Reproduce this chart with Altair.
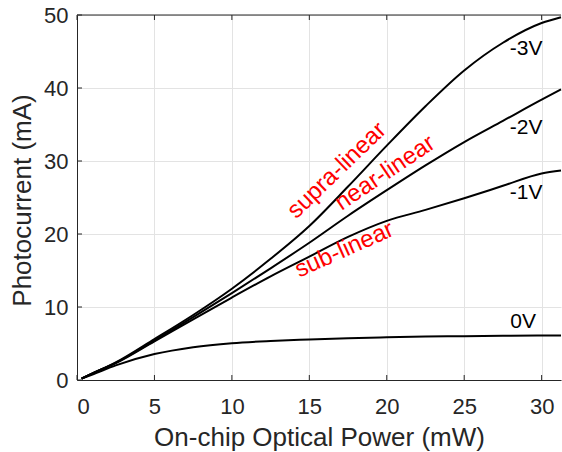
import altair as alt
import pandas as pd

# ---- data ----
power_mw = [0.3, 1, 2.5, 5, 7.5, 10, 12.5, 15, 17.5, 20, 22.5, 25, 27.5, 30, 31.25]
i_m3v = [0.2, 0.9, 2.4, 5.6, 8.9, 12.5, 16.6, 21.1, 26.5, 32.1, 37.5, 42.4, 46.2, 48.9, 49.7]
i_m2v = [0.2, 0.9, 2.35, 5.4, 8.6, 11.9, 15.3, 18.8, 22.5, 26.0, 29.4, 32.6, 35.5, 38.4, 39.8]
i_m1v = [0.2, 0.9, 2.3, 5.3, 8.3, 11.3, 14.2, 16.9, 19.6, 21.8, 23.3, 24.9, 26.6, 28.3, 28.7]
i_0v = [0.2, 0.75, 2.0, 3.55, 4.5, 5.05, 5.35, 5.55, 5.72, 5.85, 5.95, 6.0, 6.05, 6.1, 6.1]
series_names = ["-3V", "-2V", "-1V", "0V"]

label_text = ["-3V", "-2V", "-1V", "0V"]
label_x = [29.0, 29.0, 29.0, 28.8]
label_y = [45.4, 34.5, 25.6, 8.0]

note_text = ["supra-linear", "near-linear", "sub-linear"]
note_x = [17.1, 20.15, 17.45]
note_y = [28.0, 27.55, 16.95]
note_angle = [316, 326, 336]

x_ticks = [0, 5, 10, 15, 20, 25, 30]
y_ticks = [0, 10, 20, 30, 40, 50]

W, H = 484, 365
XMAX = 31.25
FONT = "Liberation Sans"
TXT = "#262626"

rows = []
for name, ys in zip(series_names, [i_m3v, i_m2v, i_m1v, i_0v]):
    for x, y in zip(power_mw, ys):
        rows.append({"series": name, "x": x, "y": y})
df = pd.DataFrame(rows)

xs = alt.Scale(domain=[0, XMAX], nice=False, zero=False)
ys_ = alt.Scale(domain=[0, 50], nice=False)

x_axis = alt.Axis(values=x_ticks, title="On-chip Optical Power (mW)", ticks=False,
                  labelPadding=26, labelBaseline="middle", labelFontSize=22,
                  titleFontSize=26, titleY=57, titleBaseline="middle",
                  labelColor=TXT, titleColor=TXT, domainColor=TXT,
                  gridColor="#e3e3e3", labelFont=FONT, titleFont=FONT, titleFontWeight="normal")
y_axis = alt.Axis(values=y_ticks, title="Photocurrent (mA)", ticks=False,
                  labelPadding=9, labelFontSize=22, titleFontSize=26,
                  titleX=-55, titleY=185, titleAngle=270, titleBaseline="middle",
                  titleAlign="center",
                  labelColor=TXT, titleColor=TXT, domainColor=TXT,
                  gridColor="#e3e3e3", labelFont=FONT, titleFont=FONT, titleFontWeight="normal")

lines = alt.Chart(df).mark_line(color="black", strokeWidth=2, interpolate="monotone").encode(
    x=alt.X("x:Q", scale=xs, axis=x_axis),
    y=alt.Y("y:Q", scale=ys_, axis=y_axis),
    detail="series:N",
)

lab_df = pd.DataFrame({"t": label_text, "x": label_x, "y": label_y})
labels = alt.Chart(lab_df).mark_text(font=FONT, fontSize=21, color="black").encode(
    x=alt.X("x:Q", scale=xs), y=alt.Y("y:Q", scale=ys_), text="t:N")

note_df = pd.DataFrame({"t": note_text, "x": note_x, "y": note_y, "a": note_angle})
notes = alt.Chart(note_df).mark_text(font=FONT, fontSize=24, color="#ff0000",
                                     baseline="alphabetic", align="center").encode(
    x=alt.X("x:Q", scale=xs), y=alt.Y("y:Q", scale=ys_), text="t:N",
    angle=alt.Angle("a:Q", scale=None))

xt_df = pd.DataFrame({"v": x_ticks})
yt_df = pd.DataFrame({"v": y_ticks})
xt_bottom = alt.Chart(xt_df).mark_rule(color=TXT, strokeWidth=1).encode(
    x=alt.X("v:Q", scale=xs), y=alt.value(H), y2=alt.value(H - 5))
xt_top = alt.Chart(xt_df).mark_rule(color=TXT, strokeWidth=1).encode(
    x=alt.X("v:Q", scale=xs), y=alt.value(0), y2=alt.value(5))
yt_left = alt.Chart(yt_df).mark_rule(color=TXT, strokeWidth=1).encode(
    y=alt.Y("v:Q", scale=ys_), x=alt.value(0), x2=alt.value(5))
top_line = alt.Chart(pd.DataFrame({"v": [0]})).mark_rule(color=TXT, strokeWidth=1).encode(
    x=alt.value(0), x2=alt.value(W), y=alt.value(0))

chart = alt.layer(lines, labels, notes, xt_bottom, xt_top, yt_left, top_line).properties(
    width=W, height=H,
    autosize=alt.AutoSizeParams(type="none"),
    padding={"left": 77, "top": 15, "right": 1, "bottom": 72},
    background="white",
).configure_view(stroke=None)

chart.save("out.html", embed_options={"renderer": "svg", "actions": False})
